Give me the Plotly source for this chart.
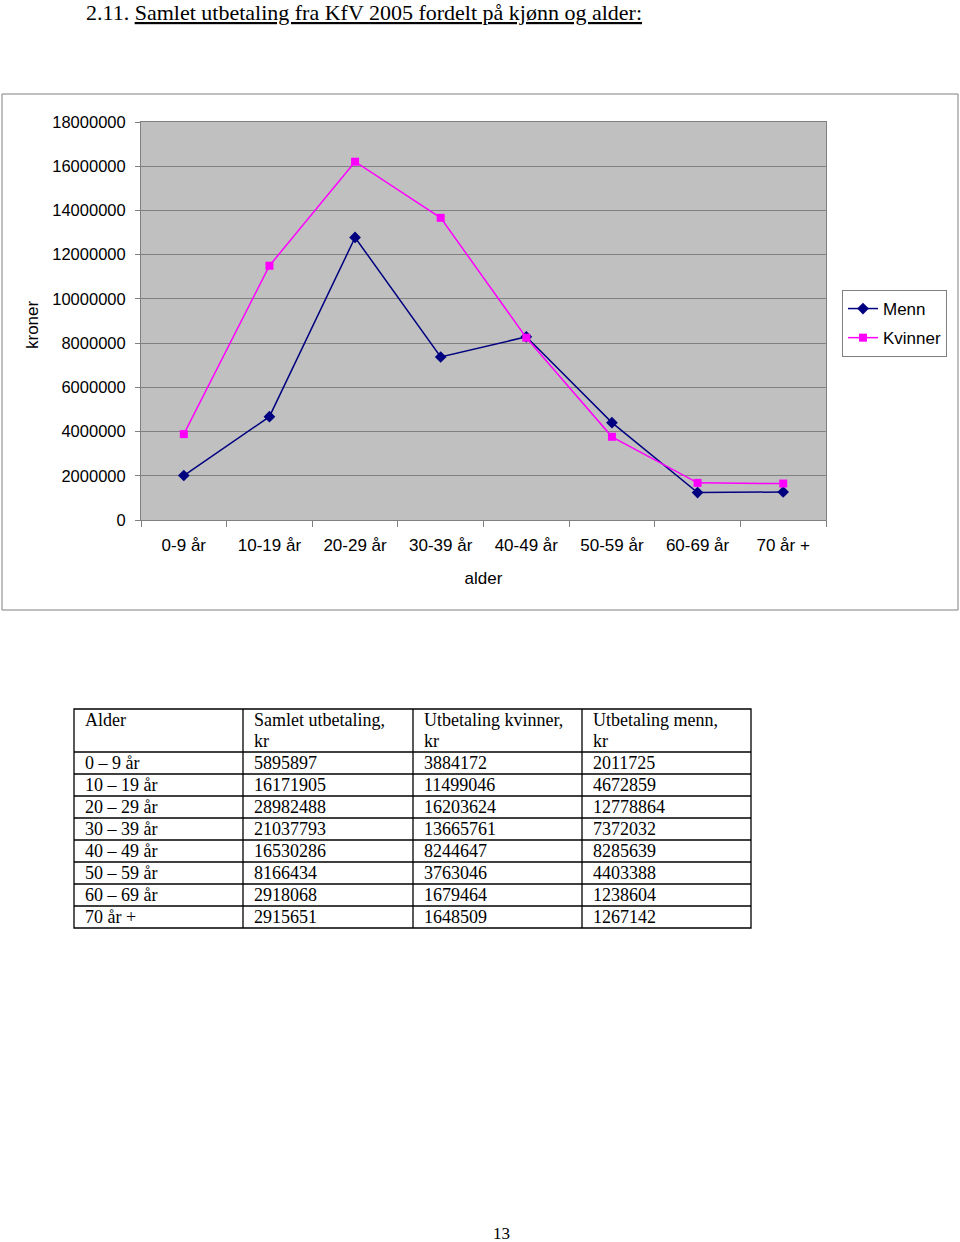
import plotly.graph_objects as go

# ---- data ----
age_groups = ["0-9 år", "10-19 år", "20-29 år", "30-39 år", "40-49 år", "50-59 år", "60-69 år", "70 år +"]
table_ages = ["0 – 9 år", "10 – 19 år", "20 – 29 år", "30 – 39 år", "40 – 49 år", "50 – 59 år", "60 – 69 år", "70 år +"]
menn = [2011725, 4672859, 12778864, 7372032, 8285639, 4403388, 1238604, 1267142]
kvinner = [3884172, 11499046, 16203624, 13665761, 8244647, 3763046, 1679464, 1648509]
samlet = [5895897, 16171905, 28982488, 21037793, 16530286, 8166434, 2918068, 2915651]
y_ticks = [0, 2000000, 4000000, 6000000, 8000000, 10000000, 12000000, 14000000, 16000000, 18000000]
table_headers = [["Alder"], ["Samlet utbetaling,", "kr"], ["Utbetaling kvinner,", "kr"], ["Utbetaling menn,", "kr"]]

W, H = 960, 1242
def px(x):
    return x / W
def py(y):
    return 1 - y / H

SANS = "Liberation Sans, Arial, sans-serif"
SERIF = "Liberation Serif, Times New Roman, serif"

fig = go.Figure()
fig.add_trace(go.Scatter(
    x=age_groups, y=menn, name="Menn", mode="lines+markers",
    line=dict(color="#000080", width=1.5),
    marker=dict(symbol="diamond", size=9, color="#000080"),
    legendgroup="m",
))
fig.add_trace(go.Scatter(
    x=age_groups, y=kvinner, name="Kvinner", mode="lines+markers",
    line=dict(color="#FF00FF", width=1.5),
    marker=dict(symbol="square", size=8, color="#FF00FF"),
    legendgroup="k",
))

fig.update_layout(
    width=W, height=H,
    margin=dict(l=0, r=0, t=0, b=0, pad=0, autoexpand=False),
    paper_bgcolor="white",
    plot_bgcolor="#C0C0C0",
    font=dict(family=SANS, size=16, color="black"),
    xaxis=dict(
        domain=[px(141), px(826)],
        anchor="y",
        automargin=False,
        range=[-0.5, len(age_groups) - 0.5],
        tickson="boundaries",
        ticks="outside", ticklen=6, tickcolor="#808080",
        showline=True, linecolor="#808080", linewidth=1, mirror=True,
        showgrid=False,
        tickfont=dict(family=SANS, size=17),
        ticklabelstandoff=10,
        title=dict(text="alder", font=dict(family=SANS, size=17), standoff=17),
    ),
    yaxis=dict(
        domain=[py(520), py(122)],
        anchor="x",
        automargin=False,
        range=[0, 18000000],
        tickvals=y_ticks,
        ticktext=[str(v) for v in y_ticks],
        ticks="outside", ticklen=5, tickcolor="#808080",
        showline=True, linecolor="#808080", linewidth=1, mirror=True,
        showgrid=True, gridcolor="#808080", gridwidth=1,
        zeroline=False,
        tickfont=dict(family=SANS, size=16.5),
        ticklabelstandoff=6,
    ),
    legend=dict(
        x=px(842), y=py(290), xanchor="left", yanchor="top",
        bgcolor="white", bordercolor="#808080", borderwidth=1,
        font=dict(family=SANS, size=17),
        traceorder="grouped", tracegroupgap=4,
    ),
    showlegend=True,
)

# chart frame
fig.add_shape(type="rect", xref="paper", yref="paper",
              x0=px(2), x1=px(958), y0=py(610), y1=py(94),
              line=dict(color="#808080", width=1), layer="below")

# y axis title
fig.add_annotation(text="kroner", xref="paper", yref="paper",
                   x=px(32), y=py(325), textangle=-90, showarrow=False,
                   xanchor="center", yanchor="middle",
                   font=dict(family=SANS, size=17))

# page title
fig.add_annotation(text="2.11. <u>Samlet utbetaling fra KfV 2005 fordelt på kjønn og alder:</u>",
                   xref="paper", yref="paper", x=px(84), y=py(12),
                   xanchor="left", yanchor="middle", showarrow=False,
                   font=dict(family=SERIF, size=22))

# ---- table drawn with shapes + annotations ----
col_x = [74, 243, 413, 582, 751]
head_top, head_bot, row_h = 709, 752, 22
row_tops = [head_bot + i * row_h for i in range(len(table_ages) + 1)]
tbl_bot = row_tops[-1]
line_style = dict(color="black", width=1.3)
fig.add_shape(type="rect", xref="paper", yref="paper",
              x0=px(col_x[0]), x1=px(col_x[-1]), y0=py(tbl_bot), y1=py(head_top), line=line_style)
for yy in row_tops[:-1]:
    fig.add_shape(type="line", xref="paper", yref="paper",
                  x0=px(col_x[0]), x1=px(col_x[-1]), y0=py(yy), y1=py(yy), line=line_style)
for xx in col_x[1:-1]:
    fig.add_shape(type="line", xref="paper", yref="paper",
                  x0=px(xx), x1=px(xx), y0=py(tbl_bot), y1=py(head_top), line=line_style)

TFONT = dict(family=SERIF, size=18, color="black")
for c, lines in enumerate(table_headers):
    for li, txt in enumerate(lines):
        fig.add_annotation(text=txt, xref="paper", yref="paper",
                           x=px(col_x[c] + 9), y=py(head_top + 11 + li * 21),
                           xanchor="left", yanchor="middle", showarrow=False, font=TFONT)

columns = [table_ages, [str(v) for v in samlet], [str(v) for v in kvinner], [str(v) for v in menn]]
for c, col in enumerate(columns):
    for r, txt in enumerate(col):
        fig.add_annotation(text=txt, xref="paper", yref="paper",
                           x=px(col_x[c] + 9), y=py(row_tops[r] + 11),
                           xanchor="left", yanchor="middle", showarrow=False, font=TFONT)

# page number
fig.add_annotation(text="13", xref="paper", yref="paper", x=px(501), y=py(1233),
                   xanchor="center", yanchor="middle", showarrow=False,
                   font=dict(family=SERIF, size=17))

fig.write_html("out.html", config={"displayModeBar": False},
               post_script="document.body.style.margin='0';document.body.style.overflow='hidden';")
